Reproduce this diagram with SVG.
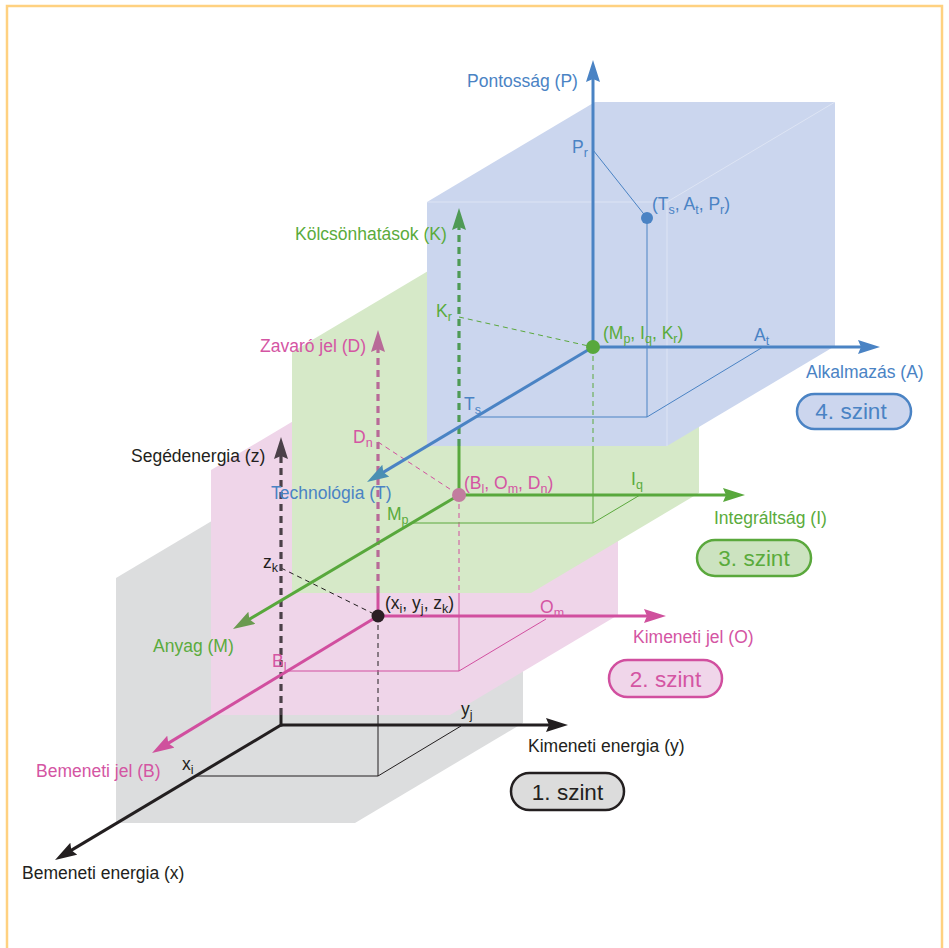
<svg xmlns="http://www.w3.org/2000/svg" width="949" height="948" viewBox="0 0 949 948">
<style>
.lbl{font-family:"Liberation Sans",Arial,sans-serif;font-size:17.5px}
.sub{font-size:12.5px}
.bt{font-family:"Liberation Sans",Arial,sans-serif;font-size:22.5px;text-anchor:middle}
.k{fill:#231f20}.p{fill:#d455a3}.g{fill:#5aab3c}.b{fill:#4a83c4}
.ax{fill:none;stroke-width:3}
.dax{fill:none;stroke-width:3.2;stroke-dasharray:7 5}
.th{fill:none;stroke-width:1}
.td{fill:none;stroke-width:1;stroke-dasharray:5 4}
.edge{fill:none;stroke:#ffffff;stroke-opacity:0.35;stroke-width:1}
</style>
<defs>
<marker id="ak" viewBox="0 0 22 14" markerWidth="22" markerHeight="14" refX="12" refY="7" orient="auto" markerUnits="userSpaceOnUse"><path d="M0,0 L22,7 L0,14 L3,7 Z" fill="#231f20"/></marker>
<marker id="akd" viewBox="0 0 22 14" markerWidth="22" markerHeight="14" refX="12" refY="7" orient="auto" markerUnits="userSpaceOnUse"><path d="M0,0 L22,7 L0,14 L3,7 Z" fill="#4b4149"/></marker>
<marker id="ap" viewBox="0 0 22 14" markerWidth="22" markerHeight="14" refX="12" refY="7" orient="auto" markerUnits="userSpaceOnUse"><path d="M0,0 L22,7 L0,14 L3,7 Z" fill="#cf519d"/></marker>
<marker id="apd" viewBox="0 0 22 14" markerWidth="22" markerHeight="14" refX="12" refY="7" orient="auto" markerUnits="userSpaceOnUse"><path d="M0,0 L22,7 L0,14 L3,7 Z" fill="#b86a98"/></marker>
<marker id="ag" viewBox="0 0 22 14" markerWidth="22" markerHeight="14" refX="12" refY="7" orient="auto" markerUnits="userSpaceOnUse"><path d="M0,0 L22,7 L0,14 L3,7 Z" fill="#58a83c"/></marker>
<marker id="agm" viewBox="0 0 22 14" markerWidth="22" markerHeight="14" refX="12" refY="7" orient="auto" markerUnits="userSpaceOnUse"><path d="M0,0 L22,7 L0,14 L3,7 Z" fill="#6a9a50"/></marker>
<marker id="agd" viewBox="0 0 22 14" markerWidth="22" markerHeight="14" refX="12" refY="7" orient="auto" markerUnits="userSpaceOnUse"><path d="M0,0 L22,7 L0,14 L3,7 Z" fill="#4f9a55"/></marker>
<marker id="ab" viewBox="0 0 22 14" markerWidth="22" markerHeight="14" refX="12" refY="7" orient="auto" markerUnits="userSpaceOnUse"><path d="M0,0 L22,7 L0,14 L3,7 Z" fill="#4a83c4"/></marker>
<marker id="abt" viewBox="0 0 22 14" markerWidth="22" markerHeight="14" refX="12" refY="7" orient="auto" markerUnits="userSpaceOnUse"><path d="M0,0 L22,7 L0,14 L3,7 Z" fill="#4a8fb3"/></marker>
</defs>
<rect x="0" y="0" width="949" height="948" fill="#ffffff"/>
<rect id="frame" x="7" y="6" width="935" height="960" fill="none" stroke="#ffd180" stroke-width="2.5"/>

<g id="level1-box"><polygon points="116,578 284,478 523,478 523,723 355,823 116,823" fill="#dcddde"/></g>
<g id="level2-box"><polygon points="211,470 379,370 618,370 618,615 450,715 211,715" fill="#efd5e9"/></g>
<g id="level3-box"><polygon points="292,352 460,252 699,252 699,493 531,593 292,593" fill="#d6e9c8"/></g>
<g id="level4-box"><polygon points="427,202 595,102 835,102 835,346 667,446 427,446" fill="#cbd6ee"/>
<path class="edge" d="M427,202 H667 L835,102 M667,202 V446"/></g>

<g id="connectors">
<path class="td" stroke="#231f20" d="M378,616 V715 M281,568 L378,616"/>
<path class="th" stroke="#231f20" d="M378,715 V776 M197,776 H378 L461,726"/>
<path class="td" stroke="#d14f9f" d="M459,495 V593 M378,442 L459,495"/>
<path class="th" stroke="#d14f9f" d="M459,593 V671 M288,671 H459 L546,619"/>
<path class="td" stroke="#5aa83c" d="M593,347 V446 M459,317 L593,347"/>
<path class="th" stroke="#5aa83c" d="M593,446 V523 M413,523 H593 L640,495"/>
<path class="th" stroke="#4a83c4" d="M647,218 V417 M477,417 H647 L763,347 M647,218 L593,150"/>

<path class="ax" stroke="#231f20" d="M281,725 L63.6,854.9" marker-end="url(#ak)"/>
<path class="ax" stroke="#231f20" d="M281,725 H558" marker-end="url(#ak)"/>
<path class="ax" stroke="#231f20" d="M281,726.5 V715"/>
<path class="dax" stroke="#4b4149" d="M281,715 V447" marker-end="url(#akd)"/>
<path class="ax" stroke="#d14f9f" d="M378,616 L160.6,747.9" marker-end="url(#ap)"/>
<path class="ax" stroke="#d14f9f" d="M378,616 H656" marker-end="url(#ap)"/>
<path class="ax" stroke="#d14f9f" d="M378,616 V593"/>
<path class="dax" stroke="#b86a98" d="M378,593 V340" marker-end="url(#apd)"/>
<path class="ax" stroke="#58a83c" d="M459,495 L241.6,623.9" marker-end="url(#agm)"/>
<path class="ax" stroke="#58a83c" d="M459,495 H735" marker-end="url(#ag)"/>
<path class="ax" stroke="#58a83c" d="M459,495 V446"/>
<path class="dax" stroke="#4f9a55" d="M459,446 V218" marker-end="url(#agd)"/>
<path class="ax" stroke="#4a83c4" d="M593,347 L375.6,476.9" marker-end="url(#abt)"/>
<path class="ax" stroke="#4a83c4" d="M593,347 H870" marker-end="url(#ab)"/>
<path class="ax" stroke="#4a83c4" d="M593,347 V70" marker-end="url(#ab)"/>
</g>

<g id="points">
<circle cx="378" cy="616" r="6.5" fill="#2b1f25"/>
<circle cx="459" cy="495" r="7" fill="#c27c9f"/>
<circle cx="593" cy="347" r="7" fill="#58a83c"/>
<circle cx="647" cy="218" r="6" fill="#4a83c4"/>
</g>

<g id="labels-level1" class="lbl k">
<text x="22" y="879">Bemeneti energia (x)</text>
<text x="528" y="752">Kimeneti energia (y)</text>
<text x="131" y="462">Segédenergia (z)</text>
<text x="182" y="770">x<tspan class="sub" dy="4">i</tspan></text>
<text x="461" y="715">y<tspan class="sub" dy="4">j</tspan></text>
<text x="263" y="568">z<tspan class="sub" dy="4">k</tspan></text>
<text x="385" y="609">(x<tspan class="sub" dy="4">i</tspan><tspan dy="-4">, y</tspan><tspan class="sub" dy="4">j</tspan><tspan dy="-4">, z</tspan><tspan class="sub" dy="4">k</tspan><tspan dy="-4">)</tspan></text>
</g>
<g id="labels-level2" class="lbl p">
<text x="36" y="777">Bemeneti jel (B)</text>
<text x="633" y="643">Kimeneti jel (O)</text>
<text x="260" y="352">Zavaró jel (D)</text>
<text x="272" y="667">B<tspan class="sub" dy="4">l</tspan></text>
<text x="540" y="613">O<tspan class="sub" dy="4">m</tspan></text>
<text x="353" y="443">D<tspan class="sub" dy="4">n</tspan></text>
<text x="464" y="489">(B<tspan class="sub" dy="4">l</tspan><tspan dy="-4">, O</tspan><tspan class="sub" dy="4">m</tspan><tspan dy="-4">, D</tspan><tspan class="sub" dy="4">n</tspan><tspan dy="-4">)</tspan></text>
</g>
<g id="labels-level3" class="lbl g">
<text x="153" y="652">Anyag (M)</text>
<text x="714" y="524">Integráltság (I)</text>
<text x="295" y="240">Kölcsönhatások (K)</text>
<text x="387" y="520">M<tspan class="sub" dy="4">p</tspan></text>
<text x="631" y="485">I<tspan class="sub" dy="4">q</tspan></text>
<text x="436" y="317">K<tspan class="sub" dy="4">r</tspan></text>
<text x="603" y="339">(M<tspan class="sub" dy="4">p</tspan><tspan dy="-4">, I</tspan><tspan class="sub" dy="4">q</tspan><tspan dy="-4">, K</tspan><tspan class="sub" dy="4">r</tspan><tspan dy="-4">)</tspan></text>
</g>
<g id="labels-level4" class="lbl b">
<text x="467" y="87">Pontosság (P)</text>
<text x="572" y="153">P<tspan class="sub" dy="4">r</tspan></text>
<text x="652" y="210">(T<tspan class="sub" dy="4">s</tspan><tspan dy="-4">, A</tspan><tspan class="sub" dy="4">t</tspan><tspan dy="-4">, P</tspan><tspan class="sub" dy="4">r</tspan><tspan dy="-4">)</tspan></text>
<text x="806" y="378">Alkalmazás (A)</text>
<text x="754" y="341">A<tspan class="sub" dy="4">t</tspan></text>
<text x="464" y="410">T<tspan class="sub" dy="4">s</tspan></text>
<text x="271" y="499">Technológia (T)</text>
</g>

<g id="badge4"><rect x="797" y="394" width="114" height="35" rx="17.5" fill="#ccd6ee" stroke="#4a83c4" stroke-width="2.5"/><text class="bt b" x="851" y="419">4. szint</text></g>
<g id="badge3"><rect x="697" y="540" width="114" height="36" rx="18" fill="#cce3c0" stroke="#5aa83c" stroke-width="2.5"/><text class="bt g" x="754" y="566">3. szint</text></g>
<g id="badge2"><rect x="609" y="660" width="113" height="37" rx="18.5" fill="#f0d6ea" stroke="#d14f9f" stroke-width="2.5"/><text class="bt p" x="665.5" y="687">2. szint</text></g>
<g id="badge1"><rect x="511" y="773" width="113" height="37" rx="18.5" fill="#dcdcdc" stroke="#231f20" stroke-width="2.5"/><text class="bt k" x="567.5" y="800">1. szint</text></g>
</svg>
